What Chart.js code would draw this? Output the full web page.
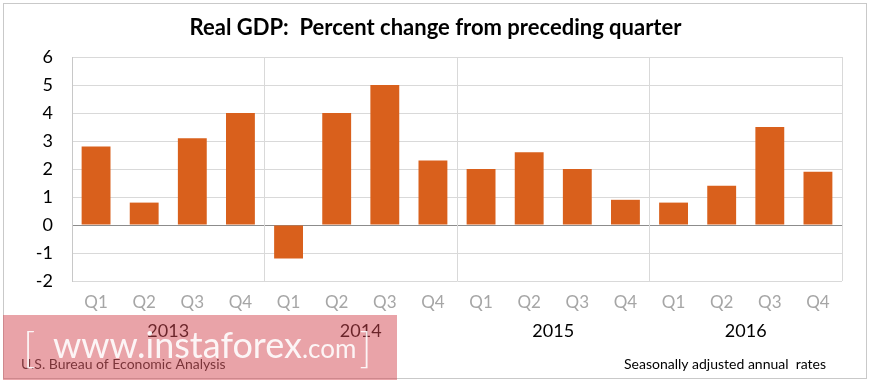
<!DOCTYPE html>
<html>
<head>
<meta charset="utf-8">
<script src="https://cdn.jsdelivr.net/npm/chart.js@4/dist/chart.umd.min.js"></script>
<style>
html,body{margin:0;padding:0;background:#fff;}
#wrap{width:871px;height:384px;position:relative;}
</style>
</head>
<body>
<div id="wrap"><canvas id="c" width="871" height="384"></canvas></div>
<script>
const quarters = ['Q1','Q2','Q3','Q4','Q1','Q2','Q3','Q4','Q1','Q2','Q3','Q4','Q1','Q2','Q3','Q4'];
const years = ['2013','2014','2015','2016'];
const gdpChange = [2.8, 0.8, 3.1, 4.0, -1.2, 4.0, 5.0, 2.3, 2.0, 2.6, 2.0, 0.9, 0.8, 1.4, 3.5, 1.9];
const yTicks = [-2, -1, 0, 1, 2, 3, 4, 5, 6];
const titleText = 'Real GDP:  Percent change from preceding quarter';
const sourceText = 'U.S. Bureau of Economic Analysis';
const noteText = 'Seasonally adjusted annual  rates';

const FONT = 'Lato, "Open Sans", sans-serif';

const decor = {
  id: 'decor',
  beforeDraw(chart) {
    const ctx = chart.ctx;
    ctx.save();
    ctx.strokeStyle = '#C9C9C9';
    ctx.lineWidth = 1;
    ctx.strokeRect(3.5, 3.5, 863, 375);
    ctx.restore();
  },
  afterDraw(chart) {
    const ctx = chart.ctx;
    ctx.save();
    ctx.textBaseline = 'middle';
    ctx.font = '14px ' + FONT;
    ctx.fillStyle = '#222';
    ctx.textAlign = 'left';
    ctx.fillText(sourceText, 21, 364);
    ctx.fillStyle = '#000';
    ctx.textAlign = 'right';
    ctx.fillText(noteText, 826, 364);
    // watermark overlay
    ctx.fillStyle = 'rgba(212,72,82,0.5)';
    ctx.fillRect(3, 315, 394, 65);
    ctx.fillStyle = 'rgba(255,255,255,0.9)';
    ctx.textBaseline = 'alphabetic';
    ctx.textAlign = 'left';
    ctx.font = '300 42px ' + FONT;
    ctx.fillText('[', 23, 363);
    ctx.font = '36px ' + FONT;
    ctx.fillText('www.instaforex', 53, 358);
    const w = ctx.measureText('www.instaforex').width;
    ctx.font = '26px ' + FONT;
    ctx.fillText('.com', 53 + w, 358);
    const w2 = ctx.measureText('.com').width;
    ctx.font = '300 42px ' + FONT;
    ctx.fillText(']', 53 + w + w2 + 3, 363);
    ctx.restore();
  }
};

new Chart(document.getElementById('c'), {
  type: 'bar',
  data: {
    labels: quarters,
    datasets: [{
      data: gdpChange,
      backgroundColor: '#D9601C',
      borderWidth: 0,
      barPercentage: 0.6,
      categoryPercentage: 1.0,
      xAxisID: 'x',
      yAxisID: 'y'
    }]
  },
  plugins: [decor],
  options: {
    responsive: false,
    animation: false,
    devicePixelRatio: 1,
    layout: { padding: { left: 0, right: 0, top: 0, bottom: 0 } },
    plugins: {
      legend: { display: false },
      tooltip: { enabled: false },
      title: {
        display: true,
        text: titleText,
        color: '#000',
        font: { family: FONT, size: 22, weight: 'bold', lineHeight: 1.2 },
        padding: { top: 15, bottom: 15.6 }
      }
    },
    scales: {
      y: {
        min: -2, max: 6,
        afterFit(s) { s.width = 72; },
        afterBuildTicks(s) { s.ticks = yTicks.map(v => ({ value: v })); },
        ticks: { color: '#000', font: { family: FONT, size: 18 }, padding: 19 },
        grid: {
          drawTicks: false,
          color: ctx => (ctx.tick && ctx.tick.value === 0) ? '#8C8C8C' : '#D9D9D9',
          lineWidth: 1
        },
        border: { display: true, color: '#C8C8C8' }
      },
      yR: {
        position: 'right',
        min: -2, max: 6,
        afterFit(s) { s.width = 29; },
        grid: { display: false, drawTicks: false },
        ticks: { display: false },
        border: { display: false }
      },
      x: {
        type: 'category',
        weight: 0,
        afterFit(s) { s.height = 36; },
        grid: { display: false, drawTicks: false },
        border: { display: false },
        ticks: { color: '#A6A6A6', font: { family: FONT, size: 17 }, padding: 11, maxRotation: 0, autoSkip: false }
      },
      x2: {
        type: 'category',
        labels: years,
        position: 'bottom',
        weight: 1,
        offset: true,
        afterFit(s) { s.height = 67; },
        grid: { offset: true, drawTicks: false, color: '#D9D9D9' },
        border: { display: false },
        ticks: { color: '#000', font: { family: FONT, size: 18 }, padding: 3, maxRotation: 0 }
      }
    }
  }
});
</script>
</body>
</html>
